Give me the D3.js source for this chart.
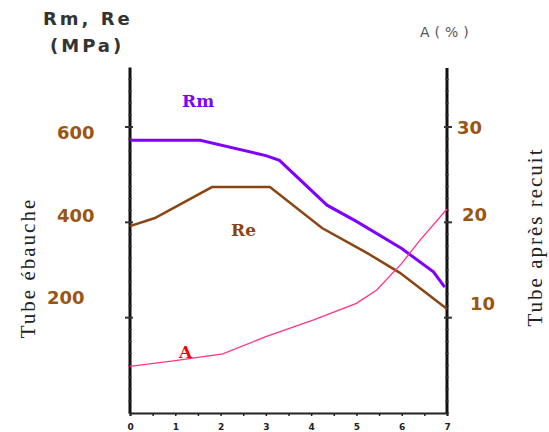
<!DOCTYPE html>
<html>
<head>
<meta charset="utf-8">
<script src="https://cdn.jsdelivr.net/npm/d3@7"></script>
<style>
  body { margin: 0; background: #fff; }
  svg { display: block; }
</style>
</head>
<body>
<div id="chart"></div>
<script>
// x = position along the tube (0..7)
const xTicks = [0, 1, 2, 3, 4, 5, 6, 7];
const mpaTicks = [200, 400, 600];
const pctTicks = [10, 20, 30];

// Rm (MPa)
const rmX = [0, 1.55, 3.0, 3.3, 4.35, 5.0, 6.0, 6.7, 6.95];
const rmY = [572, 572, 540, 530, 436, 402, 345, 296, 264];
// Re (MPa)
const reX = [0, 0.55, 1.81, 3.09, 4.24, 5.23, 5.96, 6.7, 7.0];
const reY = [392, 409, 474, 474, 388, 336, 294, 240, 218];
// A (%)
const aX = [0, 1.0, 2.05, 3.0, 4.04, 5.0, 5.45, 6.0, 6.4, 7.0];
const aY = [4.9, 5.5, 6.2, 8.0, 9.75, 11.5, 12.9, 15.7, 18.1, 21.4];

(function() {
    const width = 549, height = 432;
    const svg = d3.select('#chart').append('svg')
        .attr('width', width)
        .attr('height', height);

    const x = d3.scaleLinear().domain([0, 7]).range([130, 447]);
    const yL = d3.scaleLinear().domain([0, 600]).range([413, 127]);
    const yR = d3.scaleLinear().domain([0, 30]).range([413, 127]);

    const brown = '#9a5512';

    // vertical axes
    [[0, yL, 725, 25], [7, yR, 36.2, 1.25]].forEach(function(a) {
        const xp = x(a[0]), sc = a[1];
        svg.append('line')
            .attr('x1', xp).attr('x2', xp)
            .attr('y1', sc(0)).attr('y2', sc(a[2]))
            .attr('stroke', '#111').attr('stroke-width', 3);
        // ruler-like minor ticks
        d3.range(0, a[2], a[3]).forEach(function(v) {
            svg.append('line')
                .attr('x1', xp - 2).attr('x2', xp + 2)
                .attr('y1', sc(v)).attr('y2', sc(v))
                .attr('stroke', '#444').attr('stroke-width', 1);
        });
    });

    // major ticks
    mpaTicks.forEach(function(v) {
        svg.append('line')
            .attr('x1', x(0) - 5).attr('x2', x(0) + 3)
            .attr('y1', yL(v)).attr('y2', yL(v))
            .attr('stroke', '#333').attr('stroke-width', 2);
    });
    pctTicks.forEach(function(v) {
        svg.append('line')
            .attr('x1', x(7) - 3).attr('x2', x(7) + 5)
            .attr('y1', yR(v)).attr('y2', yR(v))
            .attr('stroke', '#333').attr('stroke-width', 2);
    });

    // tick labels
    const mpaOffset = { 200: -20, 400: -7, 600: 6 };
    const mpaLeft = { 200: 47, 400: 57, 600: 57 };
    svg.selectAll('.lt').data(mpaTicks).enter().append('text')
        .attr('x', d => mpaLeft[d])
        .attr('y', d => yL(d) + mpaOffset[d])
        .attr('dy', '0.35em')
        .attr('fill', brown)
        .attr('font-family', 'DejaVu Sans')
        .attr('font-weight', 'bold')
        .attr('font-size', '18px')
        .text(d => d);

    const pctOffset = { 10: -14, 20: -8, 30: 1 };
    const pctLeft = { 10: 470, 20: 462, 30: 457 };
    svg.selectAll('.rt').data(pctTicks).enter().append('text')
        .attr('x', d => pctLeft[d])
        .attr('y', d => yR(d) + pctOffset[d])
        .attr('dy', '0.35em')
        .attr('fill', brown)
        .attr('font-family', 'DejaVu Sans')
        .attr('font-weight', 'bold')
        .attr('font-size', '18px')
        .text(d => d);

    // x axis
    const xAxis = d3.axisBottom(x)
        .tickValues(d3.range(0, 7.01, 0.5))
        .tickSize(3)
        .tickFormat(d => Number.isInteger(d) ? d : '');
    const gx = svg.append('g')
        .attr('transform', `translate(0,${yL(0)})`)
        .call(xAxis);
    gx.select('.domain').attr('stroke', '#222').attr('stroke-width', 2);
    gx.selectAll('.tick line').attr('stroke', '#222').attr('stroke-width', 1.5);
    gx.selectAll('.tick text')
        .attr('fill', '#222')
        .attr('font-family', 'DejaVu Sans')
        .attr('font-weight', 'bold')
        .attr('font-size', '9px')
        .attr('dy', '1.2em');

    // curves
    const line = d3.line().x(d => x(d[0])).y(d => d[1]);
    svg.append('path')
        .attr('d', line(rmX.map((v, i) => [v, yL(rmY[i])])))
        .attr('fill', 'none').attr('stroke', '#8000ff').attr('stroke-width', 3);
    svg.append('path')
        .attr('d', line(reX.map((v, i) => [v, yL(reY[i])])))
        .attr('fill', 'none').attr('stroke', '#8b4513').attr('stroke-width', 2.5);
    svg.append('path')
        .attr('d', line(aX.map((v, i) => [v, yR(aY[i])])))
        .attr('fill', 'none').attr('stroke', '#ff3388').attr('stroke-width', 1.3);

    // curve labels
    svg.append('text').attr('x', 182).attr('y', 107)
        .attr('fill', '#8000ff').attr('font-family', 'DejaVu Serif')
        .attr('font-weight', 'bold').attr('font-size', '17px').text('Rm');
    svg.append('text').attr('x', 231).attr('y', 236)
        .attr('fill', '#8b4513').attr('font-family', 'DejaVu Serif')
        .attr('font-weight', 'bold').attr('font-size', '17px').text('Re');
    svg.append('text').attr('x', 179).attr('y', 358)
        .attr('fill', '#ff0000').attr('font-family', 'DejaVu Serif')
        .attr('font-weight', 'bold').attr('font-size', '17px').text('A');

    // axis titles
    svg.append('text').attr('x', 43).attr('y', 25)
        .attr('fill', '#333').attr('font-family', 'DejaVu Sans')
        .attr('font-weight', 'bold').attr('font-size', '18px')
        .attr('letter-spacing', '3px').text('Rm, Re');
    svg.append('text').attr('x', 50).attr('y', 52)
        .attr('fill', '#333').attr('font-family', 'DejaVu Sans')
        .attr('font-weight', 'bold').attr('font-size', '18px')
        .attr('letter-spacing', '3px').text('(MPa)');
    svg.append('text').attr('x', 420).attr('y', 37)
        .attr('fill', '#555').attr('font-family', 'DejaVu Sans')
        .attr('font-size', '14px')
        .attr('letter-spacing', '5px').text('A(%)');

    svg.append('text')
        .attr('transform', 'translate(35,268) rotate(-90)')
        .attr('text-anchor', 'middle')
        .attr('fill', '#222').attr('font-family', 'Liberation Serif')
        .attr('font-size', '21px')
        .attr('letter-spacing', '2px').text('Tube ébauche');
    svg.append('text')
        .attr('transform', 'translate(542,237) rotate(-90)')
        .attr('text-anchor', 'middle')
        .attr('fill', '#222').attr('font-family', 'Liberation Serif')
        .attr('font-size', '21px')
        .attr('letter-spacing', '2px').text('Tube après recuit');
})();
</script>
</body>
</html>
